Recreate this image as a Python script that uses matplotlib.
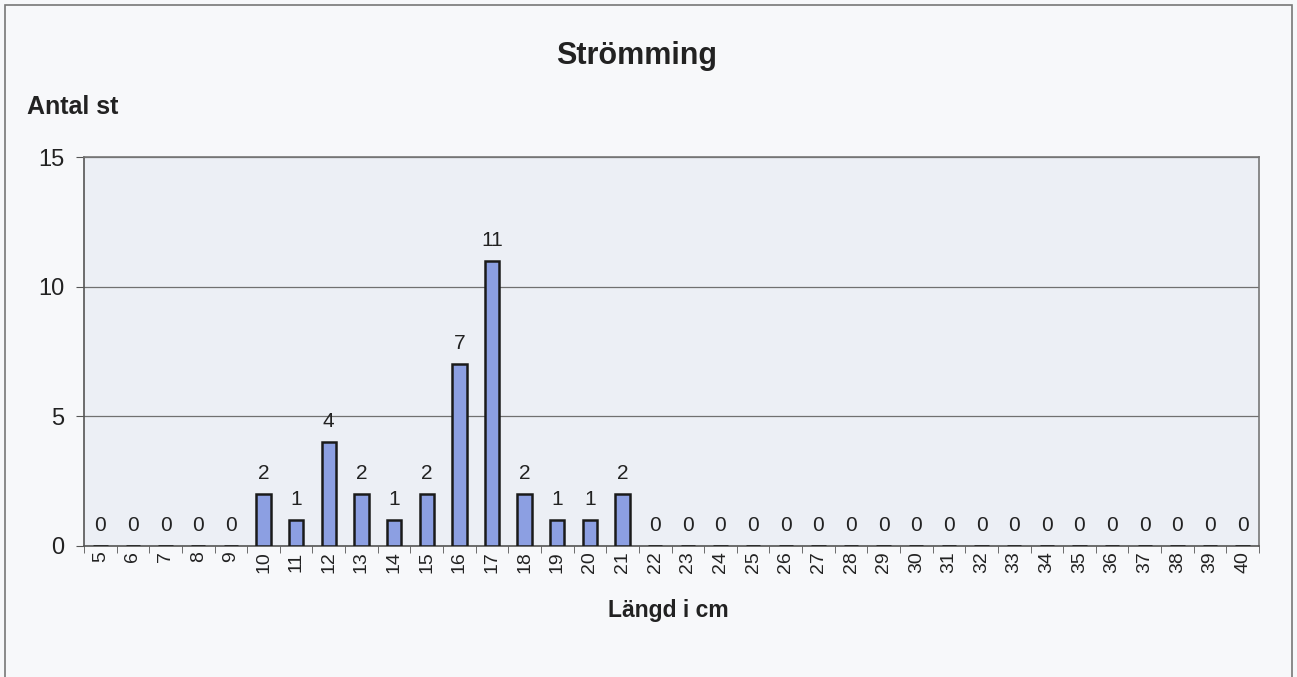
import matplotlib.pyplot as plt
import numpy as np
import matplotlib

matplotlib.rcParams['font.family'] = 'Liberation Sans'

# Data
lengths = list(range(5, 41))
counts = [0, 0, 0, 0, 0, 2, 1, 4, 2, 1, 2, 7, 11, 2, 1, 1, 2,
          0, 0, 0, 0, 0, 0, 0, 0, 0, 0, 0, 0, 0, 0, 0, 0, 0, 0, 0]
y_ticks = [0, 5, 10, 15]

fig = plt.figure(figsize=(12.97, 6.77), dpi=100, facecolor="#f7f8fa")
ax = fig.add_axes([84 / 1297, 1 - 546 / 677, (1259 - 84) / 1297, (546 - 157) / 677])
ax.set_facecolor("#eceff5")

x = np.arange(len(lengths))
ax.bar(x, counts, width=0.44, color="#8c9fe2", edgecolor="#1a1a1a", linewidth=1.8, zorder=3)

for xi, c in zip(x, counts):
    ax.annotate(f"{c}", (xi, c), xytext=(0, 8), textcoords="offset points",
                ha="center", va="bottom", fontsize=15, color="#222222")

ax.set_xlim(-0.5, len(lengths) - 0.5)
ax.set_ylim(0, 15)
ax.set_yticks(y_ticks)
ax.set_yticklabels([str(t) for t in y_ticks], fontsize=17, color="#222222")
ax.yaxis.grid(True, color="#707070", linewidth=0.9, zorder=0)

ax.set_xticks(x)
ax.set_xticklabels([str(l) for l in lengths], rotation=90, fontsize=14, color="#222222")
ax.set_xticks(np.arange(len(lengths) + 1) - 0.5, minor=True)
ax.tick_params(axis="x", which="major", length=0, pad=4)
ax.tick_params(axis="x", which="minor", length=5, color="#555555", direction="out")
ax.tick_params(axis="y", length=6, color="#555555", direction="out", pad=8)

for s in ax.spines.values():
    s.set_color("#777777")
    s.set_linewidth(1.2)
ax.spines["left"].set_color("#555555")
ax.spines["bottom"].set_color("#555555")

fig.text(637 / 1297, 1 - 56 / 677, "Strömming", ha="center", va="center",
         fontsize=22, fontweight="bold", color="#222222")
fig.text(27 / 1297, 1 - 107 / 677, "Antal st", ha="left", va="center",
         fontsize=18, fontweight="bold", color="#222222")
fig.text(668 / 1297, 1 - 610 / 677, "Längd i cm", ha="center", va="center",
         fontsize=16.5, fontweight="bold", color="#222222")

# outer chart frame
frame = plt.Rectangle((5 / 1297, -0.01), 1287 / 1297, 1 - 5 / 677 + 0.01,
                      transform=fig.transFigure, fill=False, edgecolor="#777777",
                      linewidth=1.2)
fig.patches.append(frame)

plt.savefig("out.png", dpi=100, facecolor=fig.get_facecolor())
